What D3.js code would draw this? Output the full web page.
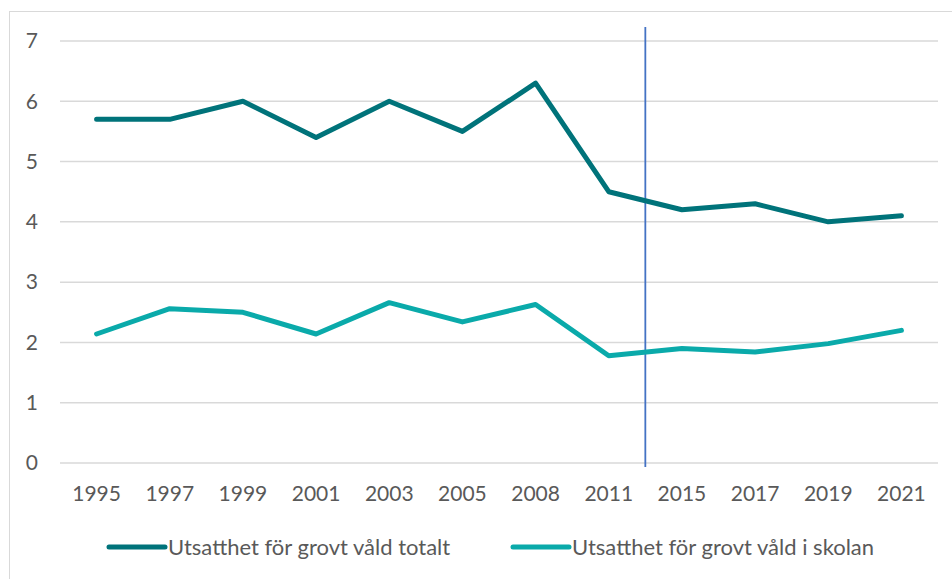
<!DOCTYPE html>
<html>
<head>
<meta charset="utf-8">
<script src="https://cdn.jsdelivr.net/npm/d3@7"></script>
<style>
  body { margin: 0; background: #fff; }
  text { font-family: Lato, "Open Sans", sans-serif; fill: #595959; }
</style>
</head>
<body>
<script>
// chart data
const years = ['1995', '1997', '1999', '2001', '2003', '2005', '2008', '2011', '2015', '2017', '2019', '2021'];
const totalt = [5.7, 5.7, 6.0, 5.4, 6.0, 5.5, 6.3, 4.5, 4.2, 4.3, 4.0, 4.1];
const skolan = [2.14, 2.56, 2.5, 2.14, 2.66, 2.34, 2.63, 1.78, 1.9, 1.84, 1.98, 2.2];
const yTicks = [0, 1, 2, 3, 4, 5, 6, 7];
const seriesNames = ['Utsatthet för grovt våld totalt', 'Utsatthet för grovt våld i skolan'];
const seriesColors = ['#00737a', '#0aaaaa'];

const width = 952;
const height = 579;

const svg = d3.select('body').append('svg')
  .attr('width', width)
  .attr('height', height);

// chart border (only left and top are inside the picture)
svg.append('rect')
  .attr('x', 9.5).attr('y', 11.5)
  .attr('width', width).attr('height', height)
  .attr('fill', 'none')
  .attr('stroke', '#d9d9d9');

const x = d3.scalePoint().domain(years).range([60, 938]).padding(0.5);
const y = d3.scaleLinear().domain([0, 7]).range([463, 41]);

// gridlines
svg.append('g')
  .selectAll('line')
  .data(yTicks)
  .enter().append('line')
  .attr('x1', 60).attr('x2', 938)
  .attr('y1', d => y(d)).attr('y2', d => y(d))
  .attr('stroke', '#d9d9d9')
  .attr('stroke-width', 1.5);

// y labels
svg.append('g')
  .selectAll('text')
  .data(yTicks)
  .enter().append('text')
  .attr('x', 38)
  .attr('y', d => y(d))
  .attr('dy', '0.35em')
  .attr('text-anchor', 'end')
  .attr('font-size', 21)
  .text(d => d);

// x labels
svg.append('g')
  .selectAll('text')
  .data(years)
  .enter().append('text')
  .attr('x', d => x(d))
  .attr('y', 494)
  .attr('dy', '0.35em')
  .attr('text-anchor', 'middle')
  .attr('font-size', 21)
  .text(d => d);

// vertical divider between 2011 and 2015
const divX = (x('2011') + x('2015')) / 2;
svg.append('line')
  .attr('x1', divX).attr('x2', divX)
  .attr('y1', 27).attr('y2', 467)
  .attr('stroke', '#4472c4')
  .attr('stroke-width', 1.8);

// lines
const line = d3.line()
  .x((d, i) => x(years[i]))
  .y(d => y(d));

[totalt, skolan].forEach((vals, k) => {
  svg.append('path')
    .datum(vals)
    .attr('d', line)
    .attr('fill', 'none')
    .attr('stroke', seriesColors[k])
    .attr('stroke-width', 5)
    .attr('stroke-linecap', 'round')
    .attr('stroke-linejoin', 'round');
});

// legend
const legendX = [109, 513];
seriesNames.forEach((name, k) => {
  const g = svg.append('g').attr('transform', `translate(${legendX[k]},547)`);
  g.append('line')
    .attr('x1', 0).attr('x2', 56)
    .attr('stroke', seriesColors[k])
    .attr('stroke-width', 5)
    .attr('stroke-linecap', 'round');
  g.append('text')
    .attr('x', 59)
    .attr('dy', '0.35em')
    .attr('font-size', 22)
    .text(name);
});
</script>
</body>
</html>
